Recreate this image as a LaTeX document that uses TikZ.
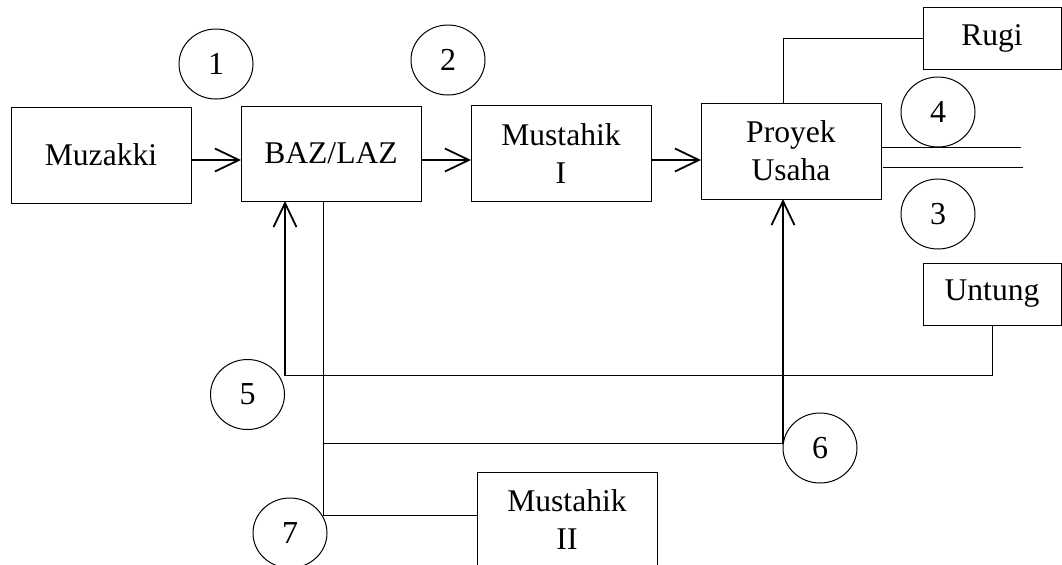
\documentclass[tikz,border=0pt]{standalone}
\usepackage{fontspec}
\setmainfont{Liberation Serif}
\usetikzlibrary{arrows.meta,shapes.geometric}
\begin{document}
\begin{tikzpicture}[x=0.5pt,y=-0.5pt,
  box/.style={draw,line width=0.5pt,inner sep=0pt,outer sep=0pt,align=center,font=\fontsize{15.8}{19}\selectfont},
  num/.style={draw,ellipse,line width=0.5pt,inner sep=0pt,outer sep=0pt,minimum width=37pt,minimum height=35pt,font=\fontsize{16}{19}\selectfont},
  arr/.style={line width=0.9pt,-{Straight Barb[length=12pt,width=11.5pt]}},
  ln/.style={line width=0.5pt}]
\useasboundingbox (0,0) rectangle (1062,564);
\clip (0,0) rectangle (1062,564);
% boxes
\node[box,minimum width=90pt,minimum height=48pt] (muz) at (101,155) {Muzakki};
\node[box,minimum width=90pt,minimum height=47.5pt] (baz) at (331,153.5) {BAZ/LAZ};
\node[box,minimum width=90pt,minimum height=47.75pt] (m1) at (561,153.25) {Mustahik\\I};
\node[box,minimum width=90pt,minimum height=48pt] (proy) at (791,151) {Proyek\\Usaha};
\node[box,minimum width=69pt,minimum height=31pt] (rugi) at (992,38) {Rugi};
\node[box,minimum width=69pt,minimum height=31pt] (untung) at (992,294) {Untung};
\node[box,minimum width=90pt,minimum height=47.5pt] (m2) at (567,519.5) {Mustahik\\II};
% numbered circles
\node[num] (c1) at (216,64) {1};
\node[num] (c2) at (448,60) {2};
\node[num] (c4) at (938,112) {4};
\node[num] (c3) at (938,214) {3};
\node[num] (c5) at (247.5,394.5) {5};
\node[num] (c6) at (820,448) {6};
\node[num] (c7) at (290,533) {7};
% helper coordinates
\coordinate (ay) at (0,160);
\coordinate (rx) at (783,0);
\coordinate (l4) at (1021,147);
\coordinate (l3) at (1023,167);
\coordinate (k5) at (285,375.5);
\coordinate (bx) at (323,0);
\coordinate (k6) at (783,443.5);
\coordinate (k7) at (323,515);
% main flow arrows
\draw[arr] (muz.east |- ay) -- (baz.west |- ay);
\draw[arr] (baz.east |- ay) -- (m1.west |- ay);
\draw[arr] (m1.east |- ay) -- (proy.west |- ay);
% rugi
\draw[ln] (proy.north -| rx) |- (rugi.west);
% parallel lines
\draw[ln] (proy.east |- l4) -- (l4);
\draw[ln] ([xshift=1pt]proy.east |- l3) -- (l3);
% untung back to BAZ
\draw[ln] (untung.south) |- (k5);
\draw[arr] (k5) -- (baz.south -| k5);
% BAZ down
\draw[ln] (baz.south -| bx) -- (k7) -- (m2.west |- k7);
\draw[ln] (bx |- k6) -- (k6);
\draw[arr] (k6) -- (proy.south -| k6);
\end{tikzpicture}
\end{document}
